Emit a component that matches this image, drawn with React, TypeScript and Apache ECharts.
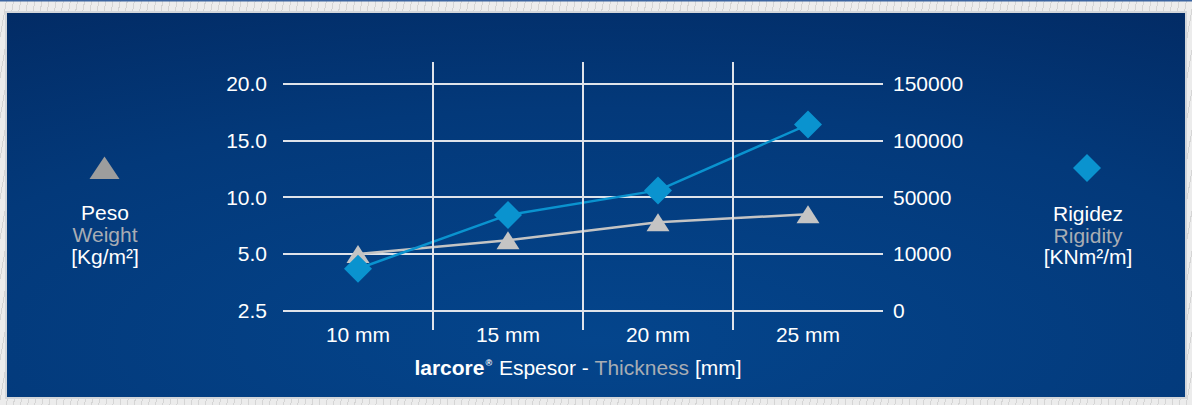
import React, { useEffect, useRef } from "react";
import * as echarts from "echarts";

const categories = ["10 mm", "15 mm", "20 mm", "25 mm"];
const weightTicks = [2.5, 5.0, 10.0, 15.0, 20.0];
const rigidityTicks = [0, 10000, 50000, 100000, 150000];
const weightValues = [5.0, 6.2, 7.8, 8.5];
const rigidityValues = [7400, 37500, 56000, 114000];

const FONT = "'Liberation Sans', Arial, sans-serif";
const GREY_TEXT = "#a8adb4";
const BLUE = "#0a93cf";
const GREY_MARK = "#c4c4c4";
const FS = 21;

// map a value onto the (non-linear) tick ladder used by the chart's axes
function toLevel(v: number, ticks: number[]): number {
  for (let i = 0; i < ticks.length - 1; i++) {
    if (v <= ticks[i + 1]) {
      return i + (v - ticks[i]) / (ticks[i + 1] - ticks[i]);
    }
  }
  return ticks.length - 1;
}

export default function App() {
  const ref = useRef<HTMLDivElement>(null);
  useEffect(() => {
    if (!ref.current) return;
    const chart = echarts.init(ref.current, undefined, { renderer: "svg" });
    const axisLabelBase = { color: "#ffffff", fontSize: FS, fontFamily: FONT };
    const txt = (x: number, y: number, text: string, fill: string) => ({
      type: "text",
      x,
      y,
      style: { text, fill, font: `${FS}px ${FONT}`, align: "center", verticalAlign: "middle" },
    });
    chart.setOption({
      animation: false,
      backgroundColor: "transparent",
      textStyle: { fontFamily: FONT },
      graphic: [
        {
          type: "rect",
          z: -10,
          shape: { x: 0, y: 0, width: 1192, height: 1.5 },
          style: { fill: "#3b64a0" },
        },
        {
          type: "rect",
          z: -10,
          shape: { x: 6, y: 12, width: 1180, height: 386 },
          style: {
            fill: {
              type: "radial",
              x: 0.5,
              y: 0.85,
              r: 1.5,
              colorStops: [
                { offset: 0, color: "#04458c" },
                { offset: 0.4, color: "#03397a" },
                { offset: 0.72, color: "#022860" },
                { offset: 1, color: "#011943" },
              ],
            },
            stroke: "#d3d6da",
            lineWidth: 2,
          },
        },
        {
          type: "polygon",
          shape: { points: [[89.5, 179], [119.5, 179], [104.5, 156.5]] },
          style: { fill: "#9d9d9d" },
        },
        txt(105, 212, "Peso", "#ffffff"),
        txt(105, 234, "Weight", GREY_TEXT),
        txt(105, 256, "[Kg/m²]", "#ffffff"),
        {
          type: "polygon",
          shape: { points: [[1087, 154], [1101, 168], [1087, 182], [1073, 168]] },
          style: { fill: BLUE },
        },
        txt(1088, 213, "Rigidez", "#ffffff"),
        txt(1088, 235, "Rigidity", GREY_TEXT),
        txt(1088, 256, "[KNm²/m]", "#ffffff"),
        {
          type: "text",
          x: 578,
          y: 367,
          style: {
            text: "{b|larcore}{r|®}{w| Espesor - }{g|Thickness}{w| [mm]}",
            align: "center",
            verticalAlign: "middle",
            rich: {
              b: { fontSize: FS, fontWeight: "bold", fill: "#ffffff", fontFamily: FONT },
              r: { fontSize: 9, fontWeight: "bold", fill: "#ffffff", fontFamily: FONT, padding: [0, 1, 8, 1] },
              w: { fontSize: FS, fill: "#ffffff", fontFamily: FONT },
              g: { fontSize: FS, fill: GREY_TEXT, fontFamily: FONT },
            },
          },
        },
      ],
      grid: [
        { left: 283, top: 62, width: 600, height: 268 },
        { left: 283, top: 83.7, width: 600, height: 227 },
      ],
      xAxis: [
        { gridIndex: 0, type: "value", min: 0, max: 4, show: false },
        {
          gridIndex: 1,
          type: "category",
          data: categories,
          boundaryGap: true,
          axisLine: { show: false },
          axisTick: { show: false },
          splitLine: { show: false },
          axisLabel: { ...axisLabelBase, margin: 13 },
        },
      ],
      yAxis: [
        { gridIndex: 0, type: "value", min: 0, max: 1, show: false },
        {
          gridIndex: 1,
          type: "value",
          position: "left",
          min: 0,
          max: 4,
          interval: 1,
          axisLine: { show: false },
          axisTick: { show: false },
          axisLabel: {
            ...axisLabelBase,
            margin: 16,
            formatter: (v: number) => weightTicks[Math.round(v)].toFixed(1),
          },
          splitLine: { show: true, lineStyle: { color: "#dfe3ea", width: 2 } },
        },
        {
          gridIndex: 1,
          type: "value",
          position: "right",
          min: 0,
          max: 4,
          interval: 1,
          axisLine: { show: false },
          axisTick: { show: false },
          axisLabel: {
            ...axisLabelBase,
            margin: 10,
            formatter: (v: number) => String(rigidityTicks[Math.round(v)]),
          },
          splitLine: { show: false },
        },
      ],
      series: [
        {
          type: "line",
          xAxisIndex: 0,
          yAxisIndex: 0,
          data: [],
          silent: true,
          markLine: {
            silent: true,
            symbol: "none",
            label: { show: false },
            lineStyle: { color: "#dfe3ea", width: 2, type: "solid" },
            data: [{ xAxis: 1 }, { xAxis: 2 }, { xAxis: 3 }],
          },
        },
        {
          name: "Peso",
          type: "line",
          xAxisIndex: 1,
          yAxisIndex: 1,
          data: weightValues.map((v) => toLevel(v, weightTicks)),
          symbol: "triangle",
          symbolSize: [23, 18],
          itemStyle: { color: GREY_MARK },
          lineStyle: { color: GREY_MARK, width: 2.5 },
          z: 3,
        },
        {
          name: "Rigidez",
          type: "line",
          xAxisIndex: 1,
          yAxisIndex: 2,
          data: rigidityValues.map((v) => toLevel(v, rigidityTicks)),
          symbol: "diamond",
          symbolSize: 28,
          itemStyle: { color: BLUE },
          lineStyle: { color: BLUE, width: 2.5 },
          z: 4,
        },
      ],
    });
    return () => chart.dispose();
  }, []);
  return (
    <div
      style={{
        position: "fixed",
        left: 0,
        top: 0,
        width: 1192,
        height: 405,
        backgroundColor: "#ececec",
        backgroundImage:
          "repeating-linear-gradient(100deg, rgba(0,0,0,0) 0px, rgba(0,0,0,0) 6px, rgba(170,170,170,0.35) 6px, rgba(170,170,170,0.35) 7px)",
      }}
    >
      <div ref={ref} style={{ width: 1192, height: 405 }} />
    </div>
  );
}
